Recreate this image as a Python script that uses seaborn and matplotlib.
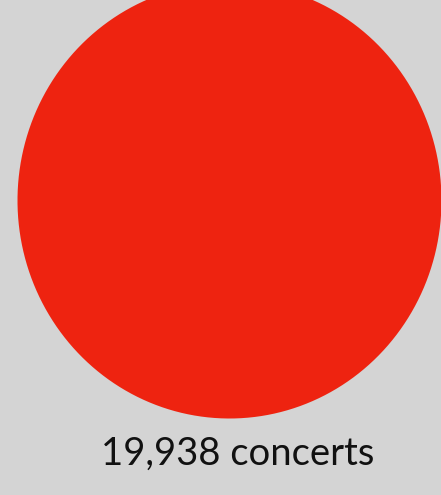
# One bubble, sized by the number of concerts

import numpy as np
import pandas as pd
import matplotlib
matplotlib.use("Agg")
import matplotlib.pyplot as plt
from matplotlib.path import Path
import seaborn as sns

labels = ["19,938 concerts"]
concerts = [19938]

df = pd.DataFrame({"x": [0], "y": [0], "concerts": concerts, "label": labels})

sns.set_theme(style="white")
plt.rcParams["font.family"] = ["Lato", "DejaVu Sans"]

# slightly oval marker (wider:taller = 212:218)
t = np.linspace(0, 2 * np.pi, 200)
oval = Path(np.column_stack([np.cos(t) * 212 / 218, np.sin(t)]), closed=True)

# bubble area in points^2 per concert
area_per_concert = 98550 / 19938

bg = "#d4d4d4"
fig = plt.figure(figsize=(4.41, 4.95), dpi=100, facecolor=bg)
ax = fig.add_axes([0, 0, 1, 1])
ax.set_facecolor(bg)

sns.scatterplot(data=df, x="x", y="y", s=df["concerts"] * area_per_concert,
                marker=oval, color="#ee2310", linewidth=0, legend=False, ax=ax)

for _, row in df.iterrows():
    ax.text(row["x"] + 9, row["y"] - 254, row["label"], ha="center", va="center",
            fontsize=27.5, color="#111111")

ax.set_xlim(-229, 212)
ax.set_ylim(-295, 200)
ax.set_axis_off()

plt.savefig("out.png", dpi=100, facecolor=bg)
